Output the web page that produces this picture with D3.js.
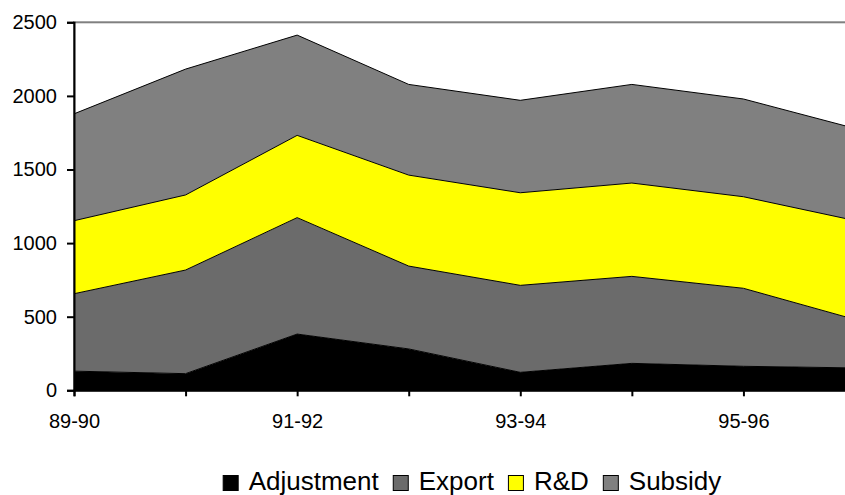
<!DOCTYPE html>
<html>
<head>
<meta charset="utf-8">
<script src="https://cdn.jsdelivr.net/npm/d3@7"></script>
<style>
  html, body { margin: 0; padding: 0; background: #fff; }
  svg { display: block; font-family: "Liberation Sans", Arial, sans-serif; }
</style>
</head>
<body>
<script>
const categories = ["89-90","90-91","91-92","92-93","93-94","94-95","95-96","96-97"];
const adjustment = [130, 113, 382, 281, 122, 183, 163, 152];
const exportVals = [526, 704, 791, 563, 591, 591, 530, 329];
const rnd        = [496, 510, 559, 618, 629, 634, 622, 672];
const subsidy    = [726, 855, 681, 616, 628, 670, 664, 626];
const seriesNames = ["Adjustment", "Export", "R&D", "Subsidy"];
const seriesColors = ["#000000", "#6b6b6b", "#ffff00", "#808080"];
const yTicks = [0, 500, 1000, 1500, 2000, 2500];

const W = 845, H = 495;
const svg = d3.select("body").append("svg").attr("width", W).attr("height", H);

const x = d3.scalePoint().domain(categories).range([74, 855]);
const y = d3.scaleLinear().domain([0, 2500]).range([390.3, 22.3]);

const rows = categories.map((c, i) => ({
  cat: c, "Adjustment": adjustment[i], "Export": exportVals[i], "R&D": rnd[i], "Subsidy": subsidy[i]
}));
const stacked = d3.stack().keys(seriesNames)(rows);

// plot border (top visible)
svg.append("rect")
  .attr("x", 74).attr("y", y(2500))
  .attr("width", 855 - 74).attr("height", y(0) - y(2500))
  .attr("fill", "none").attr("stroke", "#808080").attr("stroke-width", 2);

const area = d3.area()
  .x(d => x(d.data.cat))
  .y0(d => y(d[0]))
  .y1(d => y(d[1]));
const topLine = d3.line()
  .x(d => x(d.data.cat))
  .y(d => y(d[1]));

svg.append("g").selectAll("path.area").data(stacked).join("path")
  .attr("class", "area")
  .attr("d", area)
  .attr("fill", (d, i) => seriesColors[i]);

svg.append("g").selectAll("path.edge").data(stacked).join("path")
  .attr("class", "edge")
  .attr("d", topLine)
  .attr("fill", "none")
  .attr("stroke", "#000")
  .attr("stroke-width", 1);

// Y axis
const yAxis = svg.append("g")
  .attr("transform", "translate(74,0)")
  .call(d3.axisLeft(y).tickValues(yTicks).tickFormat(d3.format("d")).tickSize(7).tickPadding(10));
yAxis.select(".domain").attr("stroke", "#000").attr("stroke-width", 2);
yAxis.selectAll(".tick line").attr("stroke", "#000").attr("stroke-width", 2);
yAxis.selectAll("text").attr("font-size", 20).attr("fill", "#000")
  .attr("font-family", "'Liberation Sans', Arial, sans-serif");

// X axis
const xAxis = svg.append("g")
  .attr("transform", `translate(0,${y(0)})`)
  .call(d3.axisBottom(x).tickSize(6).tickPadding(18)
    .tickFormat((d, i) => i % 2 === 0 ? d : ""));
xAxis.select(".domain").attr("stroke", "#000").attr("stroke-width", 2);
xAxis.selectAll(".tick line").attr("stroke", "#000").attr("stroke-width", 2);
xAxis.selectAll("text").attr("font-size", 20).attr("fill", "#000")
  .attr("font-family", "'Liberation Sans', Arial, sans-serif");

// Legend
const legend = svg.append("g");
const items = legend.selectAll("g").data(seriesNames).join("g");
items.append("rect")
  .attr("width", 15).attr("height", 15)
  .attr("y", 475.5)
  .attr("fill", (d, i) => seriesColors[i])
  .attr("stroke", "#000").attr("stroke-width", 1);
items.append("text")
  .attr("y", 489.5)
  .attr("font-size", 26)
  .attr("fill", "#000")
  .text(d => d);
let cx = 0;
const widths = [];
items.each(function() {
  const t = d3.select(this).select("text").node().getComputedTextLength();
  widths.push(t);
});
const sqW = 16, gapIn = 10, gapOut = 14;
const total = widths.reduce((a, w) => a + sqW + gapIn + w, 0) + gapOut * (widths.length - 1);
let start = 472 - total / 2;
items.each(function(d, i) {
  const g = d3.select(this);
  g.select("rect").attr("x", start + 0.5);
  g.select("text").attr("x", start + sqW + gapIn);
  start += sqW + gapIn + widths[i] + gapOut;
});
</script>
</body>
</html>
